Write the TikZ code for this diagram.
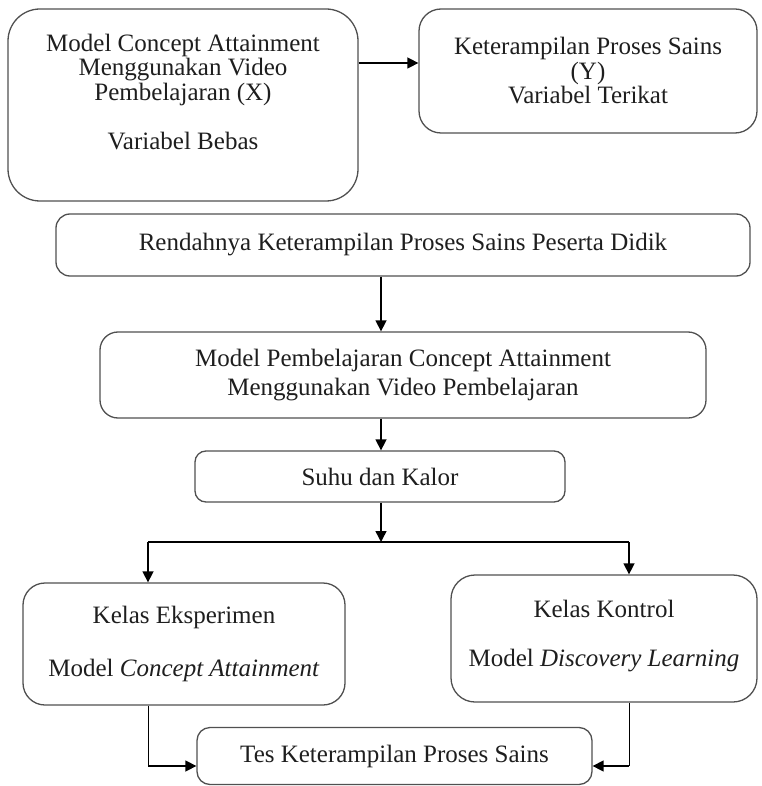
\documentclass[tikz,border=0pt]{standalone}
\usepackage{fontspec}
\setmainfont{Liberation Serif}
\usetikzlibrary{arrows.meta}
\definecolor{boxline}{HTML}{505050}
\definecolor{txt}{HTML}{1E1E1E}
\begin{document}
\begin{tikzpicture}[x=1pt,y=-1pt,
  box/.style={draw=boxline, line width=1.3pt, align=center, inner sep=0pt, text=txt, font=\fontsize{25}{24.5}\selectfont},
  arr/.style={draw=black, line width=1.5pt, -{Triangle[length=11pt,width=11pt]}},
  conn/.style={draw=black, line width=1.5pt},
  thinconn/.style={draw=black, line width=0.9pt}]
\useasboundingbox (0,0) rectangle (761,786);
\node[box, minimum width=350pt, minimum height=192pt, rounded corners=32pt] (lb) at (183,105)
  {Model Concept Attainment\\Menggunakan Video\\Pembelajaran (X)\\[25pt]Variabel Bebas\\[2pt]\mbox{}};
\node[box, minimum width=338pt, minimum height=124pt, rounded corners=22pt] (rb) at (588,71)
  {Keterampilan Proses Sains\\(Y)\\Variabel Terikat};
\node[box, minimum width=694pt, minimum height=62pt, rounded corners=14pt] (rend) at (403,245)
  {Rendahnya Keterampilan Proses Sains Peserta Didik};
\node[box, minimum width=606pt, minimum height=86pt, rounded corners=18pt, font=\fontsize{25}{29}\selectfont] (mp) at (403,375)
  {Model Pembelajaran Concept Attainment\\Menggunakan Video Pembelajaran};
\node[box, minimum width=370pt, minimum height=51pt, rounded corners=11pt] (suhu) at (380,476.5)
  {Suhu dan Kalor};
\node[box, minimum width=322pt, minimum height=122pt, rounded corners=22pt] (eks) at (184,644)
  {Kelas Eksperimen\\[28pt]Model \textit{Concept Attainment}};
\node[box, minimum width=306pt, minimum height=127pt, rounded corners=24pt] (kon) at (604,638.5)
  {Kelas Kontrol\\[24pt]Model \textit{Discovery Learning}\\[-14pt]\mbox{}};
\node[box, minimum width=395pt, minimum height=57pt, rounded corners=13pt] (tes) at (394.5,756)
  {Tes Keterampilan Proses Sains};
\coordinate (ay) at (0,63);
\coordinate (cx) at (381,0);
\coordinate (split) at (381,542);
\coordinate (lx) at (148,0);
\coordinate (rx) at (629,0);
\coordinate (by) at (0,766);
\draw[arr] (lb.east |- ay) -- (rb.west |- ay);
\draw[arr] (cx |- rend.south) -- (cx |- mp.north);
\draw[arr] (cx |- mp.south) -- (cx |- suhu.north);
\draw[arr] (cx |- suhu.south) -- (split);
\draw[conn] (lx |- split) -- (rx |- split);
\draw[arr] (lx |- split) -- (lx |- eks.north);
\draw[arr] (rx |- split) -- (rx |- kon.north);
\draw[thinconn] (lx |- eks.south) -- (lx |- by);
\draw[thinconn] (rx |- kon.south) -- (rx |- by);
\draw[arr] (lx |- by) -- (tes.west |- by);
\draw[arr] (rx |- by) -- (tes.east |- by);
\end{tikzpicture}
\end{document}
